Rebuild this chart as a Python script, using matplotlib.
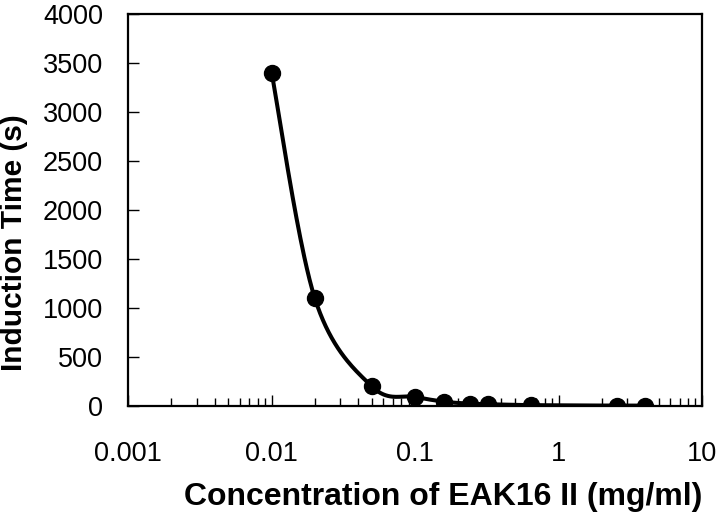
import numpy as np
import matplotlib
matplotlib.use("Agg")
import matplotlib.pyplot as plt
from matplotlib.ticker import LogLocator, FixedLocator, NullFormatter

# data
conc = [0.01, 0.02, 0.05, 0.1, 0.16, 0.24, 0.32, 0.64, 2.56, 4.0]
induction = [3400, 1100, 200, 95, 45, 25, 20, 10, 5, 5]

x_lim = (0.001, 10)
y_lim = (0, 4000)
y_ticks = [0, 500, 1000, 1500, 2000, 2500, 3000, 3500, 4000]
x_ticks = [0.001, 0.01, 0.1, 1, 10]
x_tick_labels = ["0.001", "0.01", "0.1", "1", "10"]

plt.rcParams["font.family"] = ["Liberation Sans", "DejaVu Sans"]


def smooth_curve(xs, ys, w_px=574, h_px=392, n=40):
    # excel-like bezier smoothing done in screen-ish units
    u = (np.log10(xs) - np.log10(x_lim[0])) / (np.log10(x_lim[1]) - np.log10(x_lim[0])) * w_px
    v = (np.asarray(ys) - y_lim[0]) / (y_lim[1] - y_lim[0]) * h_px
    pts = np.column_stack([u, v])
    out = [pts[0]]
    t = np.linspace(0, 1, n)[1:, None]
    for i in range(len(pts) - 1):
        p0 = pts[i]
        p3 = pts[i + 1]
        prev = pts[i - 1] if i > 0 else pts[i]
        nxt = pts[i + 2] if i + 2 < len(pts) else pts[i + 1]
        p1 = p0 + (p3 - prev) / 6
        p2 = p3 - (nxt - p0) / 6
        seg = (1 - t) ** 3 * p0 + 3 * (1 - t) ** 2 * t * p1 + 3 * (1 - t) * t ** 2 * p2 + t ** 3 * p3
        out.extend(seg)
    out = np.array(out)
    cx = 10 ** (out[:, 0] / w_px * (np.log10(x_lim[1]) - np.log10(x_lim[0])) + np.log10(x_lim[0]))
    cy = out[:, 1] / h_px * (y_lim[1] - y_lim[0]) + y_lim[0]
    return cx, cy


fig = plt.figure(figsize=(7.2, 5.16), dpi=100)
ax = fig.add_axes([0.178, 0.213, 0.797, 0.760])

cx, cy = smooth_curve(np.array(conc), induction)
ax.plot(cx, cy, color="black", lw=2.9, solid_capstyle="round")
ax.plot(conc, induction, "o", color="black", ms=11.5)

ax.set_xscale("log")
ax.set_xlim(*x_lim)
ax.set_ylim(*y_lim)
ax.xaxis.set_major_locator(FixedLocator(x_ticks))
ax.set_xticklabels(x_tick_labels)
ax.xaxis.set_minor_locator(LogLocator(base=10, subs=np.arange(2, 10)))
ax.xaxis.set_minor_formatter(NullFormatter())
ax.set_yticks(y_ticks)

for s in ax.spines.values():
    s.set_linewidth(1.6)

ax.tick_params(axis="x", which="major", direction="in", length=8, width=1, pad=25, labelsize=19.5)
ax.tick_params(axis="x", which="minor", direction="in", length=6, width=1)
ax.tick_params(axis="y", direction="in", length=8, width=1, pad=18, labelsize=19.5)

ax.set_xlabel("Concentration of EAK16 II (mg/ml)", fontsize=23, fontweight="bold")
ax.set_ylabel("Induction Time (s)", fontsize=21.5, fontweight="bold")
ax.xaxis.set_label_coords(0.549, -0.193)
ax.yaxis.set_label_coords(-0.174, 0.418)

plt.savefig("out.png", dpi=100)
